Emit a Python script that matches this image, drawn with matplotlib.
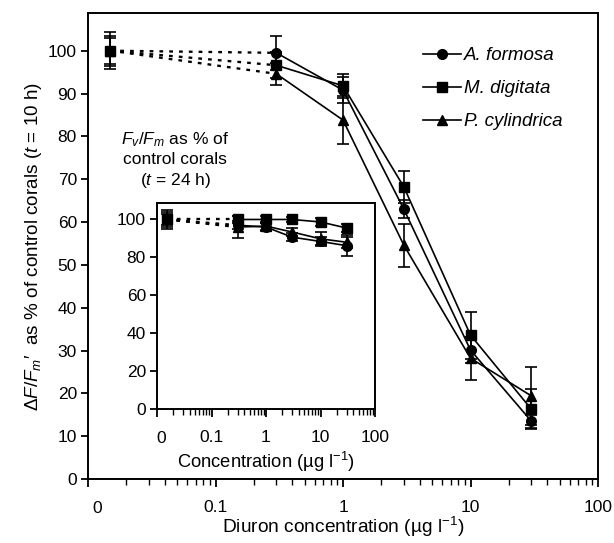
import matplotlib
matplotlib.use("Agg")
import matplotlib.pyplot as plt
from matplotlib.lines import Line2D
import numpy as np

plt.rcParams['font.family'] = ['Liberation Sans', 'DejaVu Sans']
plt.rcParams['mathtext.fontset'] = 'custom'
plt.rcParams['mathtext.rm'] = 'Liberation Sans'
plt.rcParams['mathtext.it'] = 'Liberation Sans:italic'
plt.rcParams['mathtext.bf'] = 'Liberation Sans:bold'

# ---- data (main, t = 10 h) ----
conc_ctrl = 0.015          # plotted position of the control (0 ug/l)
conc = [0.3, 1, 3, 10, 30]
species = ['A. formosa', 'M. digitata', 'P. cylindrica']
markers = ['o', 's', '^']

main_ctrl = [100, 100, 100]
main_ctrl_err = [3.0, 4.3, 3.5]
main_A = [99.5, 90.8, 63.0, 30.1, 13.5]
main_M = [96.6, 91.8, 68.2, 33.6, 16.3]
main_P = [94.6, 83.8, 54.6, 28.2, 19.4]
main_A_err = [3.9, 3.0, 2.1, 3.0, 1.5]
main_M_err = [3.0, 2.8, 3.8, 5.5, 4.6]
main_P_err = [2.5, 5.6, 5.0, 5.0, 6.8]

# ---- data (inset, t = 24 h) ----
ins_ctrl = [100, 100, 100]
ins_ctrl_err = [5.0, 4.0, 3.0]
ins_A = [97.0, 96.0, 90.7, 88.4, 86.2]
ins_M = [100.0, 100.0, 100.0, 98.7, 95.5]
ins_P = [96.0, 96.5, 93.4, 89.8, 88.0]
ins_A_err = [2.0, 2.0, 2.0, 2.5, 5.5]
ins_M_err = [2.0, 2.0, 1.5, 2.0, 2.0]
ins_P_err = [5.8, 2.0, 2.0, 3.5, 3.0]

main_series = [(main_A, main_A_err), (main_M, main_M_err), (main_P, main_P_err)]
ins_series = [(ins_A, ins_A_err), (ins_M, ins_M_err), (ins_P, ins_P_err)]

W, H = 614, 543
fig = plt.figure(figsize=(W / 100, H / 100), dpi=100)

def px_axes(l, t, r, b):
    return fig.add_axes([l / W, 1 - b / H, (r - l) / W, (b - t) / H])

ax = px_axes(88, 13, 598, 479)
axi = px_axes(157, 203, 375, 409)

FS = 12.5
zorders = [3, 5, 4]

def draw(a, series, ctrl, ctrl_err, ms, lw, cap):
    for i, ((vals, errs), m) in enumerate(zip(series, markers)):
        # dotted link from control to first concentration
        a.plot([conc_ctrl, conc[0]], [ctrl[i], vals[0]], color='black',
               lw=lw * 1.4, linestyle=(0, (1.6, 2.6)), zorder=2)
        a.plot(conc, vals, color='black', lw=lw, zorder=2)
        a.errorbar([conc_ctrl] + conc, [ctrl[i]] + vals,
                   yerr=[ctrl_err[i]] + errs, fmt=m, color='black',
                   ms=ms, ecolor='black', elinewidth=lw, capsize=cap,
                   capthick=lw, zorder=zorders[i])

draw(ax, main_series, main_ctrl, main_ctrl_err, 7, 1.2, 4)
draw(axi, ins_series, ins_ctrl, ins_ctrl_err, 7, 1.2, 4)

def style(a, ymax, yticks, xpad):
    a.set_xscale('log')
    a.set_xlim(0.01, 100)
    a.set_ylim(0, ymax)
    a.set_yticks(yticks)
    a.set_xticks([0.01, 0.1, 1, 10, 100])
    a.set_xticklabels(['', '0.1', '1', '10', '100'])
    for s in a.spines.values():
        s.set_linewidth(1.4)
    a.tick_params(axis='both', which='major', direction='out', length=5,
                  width=1.3, labelsize=FS)
    a.tick_params(axis='x', which='major', pad=xpad, length=6)
    a.tick_params(axis='y', pad=3)
    a.tick_params(axis='x', which='minor', direction='out', length=4, width=1.0)
    a.annotate('0', xy=(0.0118, 0), xycoords=('data', 'axes fraction'),
               xytext=(0, -(6 + xpad + 1)), textcoords='offset points',
               ha='center', va='top', fontsize=FS)

style(ax, 108.8, np.arange(0, 101, 10), 9)
style(axi, 108.7, np.arange(0, 101, 20), 9)

ax.set_xlabel('Diuron concentration (µg l$^{-1}$)', fontsize=13.8, labelpad=0)
ax.set_ylabel("$\\mathit{\\Delta F/F_m}$′  as % of control corals ($t$ = 10 h)",
              fontsize=13.6, labelpad=2.5)
axi.set_xlabel('Concentration (µg l$^{-1}$)', fontsize=13.2, labelpad=3.5)

ax.text(175 / W, 1 - 160 / H, "$F_v/F_m$ as % of\ncontrol corals\n($t$ = 24 h)",
        transform=fig.transFigure, ha='center', va='center', fontsize=FS,
        linespacing=1.25)

handles = [Line2D([0], [0], color='black', lw=1.2, marker=m, ms=7)
           for m in markers]
leg = ax.legend(handles, species, loc='upper left',
                bbox_to_anchor=((423 - 88) / 510, (479 - 47) / 466),
                frameon=False, handlelength=2.0, labelspacing=0.85,
                handletextpad=0.2, borderpad=0, borderaxespad=0,
                prop={'style': 'italic', 'size': 13.5})

fig.savefig('out.png', dpi=100)
